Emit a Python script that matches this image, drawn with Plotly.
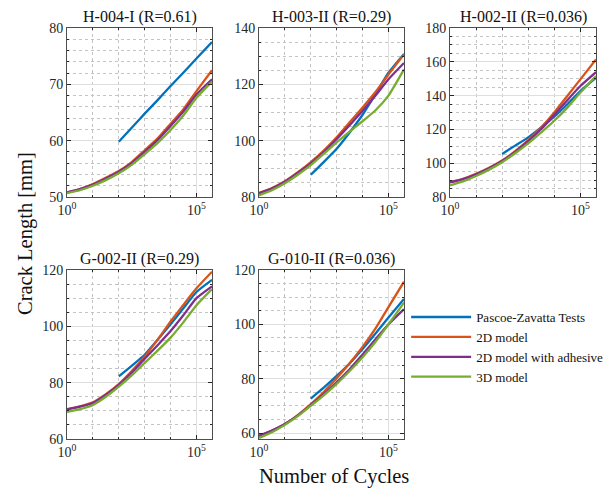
import plotly.graph_objects as go

# ---------------- data ----------------
cycles = [1, 3.16, 10, 31.6, 100, 316, 1000, 3160, 10000, 31600, 100000, 398000]
test_cycles = [100, 316, 1000, 3160, 10000, 31600, 100000, 398000]

titles = ["H-004-I (R=0.61)", "H-003-II (R=0.29)", "H-002-II (R=0.036)",
          "G-002-II (R=0.29)", "G-010-II (R=0.036)"]
series_names = ["Pascoe-Zavatta Tests", "2D model", "2D model with adhesive", "3D model"]

h004_test = [59.8, 62.3, 64.8, 67.2, 69.7, 72.1, 74.6, 77.5]
h004_2d = [50.8, 51.4, 52.3, 53.4, 54.6, 56.2, 58.3, 60.4, 63.0, 65.6, 68.8, 72.5]
h004_2d_adh = [50.8, 51.4, 52.2, 53.3, 54.5, 56.0, 58.0, 60.1, 62.6, 65.2, 68.2, 70.9]
h004_3d = [50.7, 51.2, 52.0, 53.0, 54.2, 55.7, 57.6, 59.6, 61.9, 64.5, 67.6, 70.5]

h003_test = [87.9, 92.4, 97.1, 102.9, 109.2, 116.5, 124.1, 130.8]
h003_2d = [81.4, 83.2, 85.6, 88.8, 92.4, 96.5, 101.2, 106.5, 111.8, 117.3, 123.5, 130.6]
h003_2d_adh = [81.3, 83.0, 85.4, 88.5, 91.9, 95.9, 100.6, 105.5, 110.6, 116.0, 121.8, 127.6]
h003_3d = [80.6, 82.4, 84.9, 87.9, 91.3, 95.3, 99.4, 103.2, 106.9, 110.8, 116.0, 125.3]

h002_test = [105.5, 110.4, 115.3, 121.2, 127.5, 134.9, 142.7, 150.6]
h002_2d = [88.8, 90.8, 93.7, 97.3, 101.6, 107.1, 113.6, 121.2, 130.0, 139.8, 149.6, 161.4]
h002_2d_adh = [88.6, 90.6, 93.5, 97.0, 101.3, 106.7, 113.0, 120.2, 128.6, 137.3, 145.7, 153.9]
h002_3d = [86.9, 89.2, 92.4, 96.2, 100.6, 105.9, 111.7, 118.2, 125.1, 132.9, 141.8, 151.6]

g002_test = [82.2, 86.0, 89.9, 95.2, 100.7, 106.5, 112.2, 116.5]
g002_2d = [70.6, 71.6, 73.0, 75.9, 79.5, 84.1, 89.3, 95.3, 101.7, 107.7, 113.5, 119.4]
g002_2d_adh = [70.5, 71.5, 72.8, 75.6, 79.2, 83.5, 88.5, 93.3, 98.3, 104.0, 110.0, 114.2]
g002_3d = [69.6, 70.6, 72.1, 75.0, 78.6, 82.6, 87.0, 91.4, 96.0, 101.5, 107.5, 113.2]

g010_test = [72.7, 76.7, 81.0, 85.6, 90.9, 96.6, 102.5, 109.3]
g010_2d = [59.0, 60.9, 63.3, 66.6, 70.6, 75.1, 80.2, 85.7, 91.7, 98.5, 106.3, 115.7]
g010_2d_adh = [59.0, 60.9, 63.3, 66.5, 70.3, 74.3, 78.7, 83.5, 88.9, 94.5, 100.0, 105.6]
g010_3d = [58.2, 60.3, 63.0, 66.2, 70.0, 73.9, 78.1, 82.8, 87.9, 93.6, 100.0, 108.0]

y_ranges = [[50, 80], [80, 140], [80, 180], [60, 120], [57.8, 120]]
y_major = [10, 20, 20, 20, 20]
y_minor = [2, 5, 5, 5, 5]
y_tick0 = [50, 80, 80, 60, 60]

specimens = [
    (h004_test, h004_2d, h004_2d_adh, h004_3d),
    (h003_test, h003_2d, h003_2d_adh, h003_3d),
    (h002_test, h002_2d, h002_2d_adh, h002_3d),
    (g002_test, g002_2d, g002_2d_adh, g002_3d),
    (g010_test, g010_2d, g010_2d_adh, g010_3d),
]

colors = ["#0072BD", "#D95319", "#7E2F8E", "#77AC30"]

# ---------------- layout geometry (pixels) ----------------
W, H = 608, 488
x_dom_px = [(67, 212), (259, 404), (450, 596), (67, 212), (259, 404)]
y_dom_px = [(28, 197), (28, 197), (28, 197), (270, 439), (270, 439)]

FONT = "Liberation Serif, Times New Roman, serif"
AX_COLOR = "#262626"

fig = go.Figure()
layout = dict(
    width=W, height=H,
    margin=dict(l=0, r=0, t=0, b=0, autoexpand=False),
    paper_bgcolor="white", plot_bgcolor="white",
    font=dict(family=FONT, color=AX_COLOR, size=14),
    showlegend=True,
    legend=dict(x=0.668, y=0.381, xanchor="left", yanchor="top",
                bgcolor="rgba(0,0,0,0)", font=dict(size=13, family=FONT, color="#111"),
                itemwidth=60, tracegroupgap=0),
)

annotations = []
for i, (spec, title) in enumerate(zip(specimens, titles)):
    n = i + 1
    xa = "x" if n == 1 else f"x{n}"
    ya = "y" if n == 1 else f"y{n}"
    xs = [test_cycles, cycles, cycles, cycles]
    for k in range(4):
        fig.add_trace(go.Scatter(
            x=xs[k], y=spec[k], mode="lines", name=series_names[k],
            line=dict(color=colors[k], width=2.3, shape="spline", smoothing=0.5),
            xaxis=xa, yaxis=ya, legendgroup=series_names[k],
            showlegend=(i == 0),
        ))
    x0, x1 = x_dom_px[i]
    y0, y1 = y_dom_px[i]
    layout[f"xaxis{n if n > 1 else ''}"] = dict(
        domain=[x0 / W, x1 / W], anchor=ya, type="log", range=[0, 5.6],
        tickmode="array", tickvals=[1, 1e5],
        ticktext=["10<sup>0</sup>", "10<sup>5</sup>"],
        ticks="inside", ticklen=4, tickcolor=AX_COLOR,
        showline=True, linecolor="#4d4d4d", linewidth=1, mirror="allticks",
        showgrid=True, gridcolor="#dedede", gridwidth=1,
        minor=dict(tickmode="array", tickvals=[10, 100, 1000, 10000],
                   ticks="inside", ticklen=2, tickcolor=AX_COLOR,
                   showgrid=True, gridcolor="#c4c4c4", griddash="dot", gridwidth=1),
        tickfont=dict(size=14, family=FONT, color=AX_COLOR), zeroline=False,
    )
    layout[f"yaxis{n if n > 1 else ''}"] = dict(
        domain=[1 - y1 / H, 1 - y0 / H], anchor=xa, range=y_ranges[i],
        tickmode="linear", tick0=y_tick0[i], dtick=y_major[i],
        ticks="inside", ticklen=4, tickcolor=AX_COLOR,
        showline=True, linecolor="#4d4d4d", linewidth=1, mirror="allticks",
        showgrid=True, gridcolor="#dedede", gridwidth=1,
        minor=dict(tickmode="linear", tick0=y_tick0[i], dtick=y_minor[i],
                   ticks="inside", ticklen=2, tickcolor=AX_COLOR,
                   showgrid=True, gridcolor="#c4c4c4", griddash="dot", gridwidth=1),
        tickfont=dict(size=14, family=FONT, color=AX_COLOR), zeroline=False,
    )
    annotations.append(dict(
        text=title, x=(x0 + x1) / 2 / W, y=1 - (y0 - 11) / H,
        xref="paper", yref="paper", xanchor="center", yanchor="middle",
        showarrow=False, font=dict(size=16, family=FONT, color="#111"),
    ))

annotations.append(dict(
    text="Number of Cycles", x=334 / W, y=1 - 476 / H, xref="paper", yref="paper",
    xanchor="center", yanchor="middle", showarrow=False,
    font=dict(size=20.5, family=FONT, color="#111"),
))
annotations.append(dict(
    text="Crack Length [mm]", x=25 / W, y=1 - 234 / H, xref="paper", yref="paper",
    xanchor="center", yanchor="middle", showarrow=False, textangle=-90,
    font=dict(size=20.5, family=FONT, color="#111"),
))
layout["annotations"] = annotations
fig.update_layout(**layout)
fig.write_html("out.html", config={"displayModeBar": False},
               post_script="document.body.style.margin='0';")
